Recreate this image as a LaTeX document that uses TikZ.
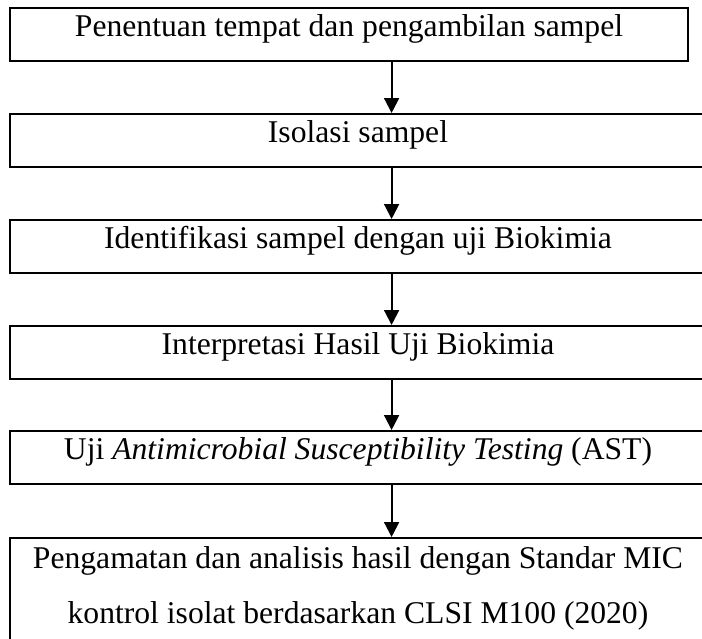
\documentclass[tikz,border=0pt]{standalone}
\usepackage{fontspec}
\setmainfont{Liberation Serif}
\usetikzlibrary{arrows.meta,positioning}

\begin{document}
\begin{tikzpicture}[line width=1.4pt, >={Triangle[width=0.375cm,length=0.375cm]}]
   \useasboundingbox (0,0) rectangle (17.55,-15.95);
   \begin{scope}[every node/.style={draw,anchor=north,inner sep=0pt,text height=0.72cm,text depth=0.605cm,minimum width=17.4cm,font=\fontsize{22.5}{39.8}\selectfont}]
    \node (s1) [minimum width=16.95cm] at (8.725,-0.175) {Penentuan tempat dan pengambilan sampel};
    \node (s2) at (8.95,-2.825) {Isolasi sampel};
    \node (s3) at (8.95,-5.475) {Identifikasi sampel dengan uji Biokimia};
    \node (s4) at (8.95,-8.125) {Interpretasi Hasil Uji Biokimia};
    \node (s5) at (8.95,-10.75) {Uji \textit{Antimicrobial Susceptibility Testing} (AST)};
    \node (s6) [align=center,text height=2.15cm,text depth=1cm] at (8.95,-13.425) {Pengamatan dan analisis hasil dengan Standar MIC\\kontrol isolat berdasarkan CLSI M100 (2020)};
   \end{scope}
   \coordinate (ax) at (9.79,0);
   \begin{scope}[->]
    \draw (s1.south -| ax) -- (s2.north -| ax);
    \draw (s2.south -| ax) -- (s3.north -| ax);
    \draw (s3.south -| ax) -- (s4.north -| ax);
    \draw (s4.south -| ax) -- (s5.north -| ax);
    \draw (s5.south -| ax) -- (s6.north -| ax);
   \end{scope}
\end{tikzpicture}
\end{document}
